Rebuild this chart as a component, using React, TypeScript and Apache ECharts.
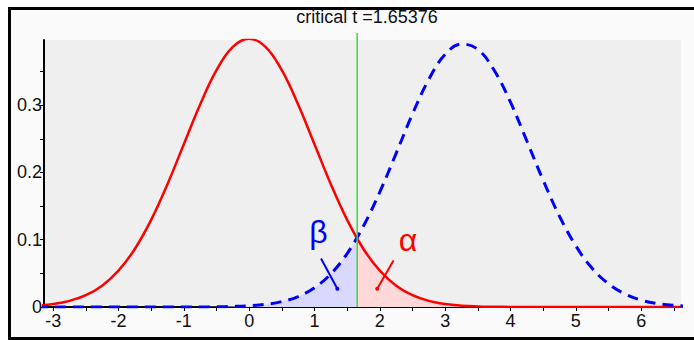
import React, { useEffect, useRef } from "react";
import * as echarts from "echarts";

const TITLE = "critical t =1.65376";
const CRITICAL_T = 1.65376;
const X_MIN = -3.14;
const X_MAX = 6.61;
const Y_MAX = 0.397;
const CRIT_LINE_TOP = 0.4074;

const X_VALUES = [
  -3.25, -3.0, -2.75, -2.5, -2.25, -2.0, -1.75, -1.5, -1.25, -1.0, -0.75, -0.5, -0.25,
  0.0, 0.25, 0.5, 0.75, 1.0, 1.25, 1.5, 1.75, 2.0, 2.25, 2.5, 2.75, 3.0, 3.25, 3.5,
  3.75, 4.0, 4.25, 4.5, 4.75, 5.0, 5.25, 5.5, 5.75, 6.0, 6.25, 6.5, 6.75,
];

// null-hypothesis density (red, solid)
const NULL_PDF = [
  0.002, 0.0044, 0.0091, 0.0175, 0.0317, 0.054, 0.0863, 0.1295, 0.1826, 0.242, 0.3011,
  0.3521, 0.3867, 0.3989, 0.3867, 0.3521, 0.3011, 0.242, 0.1826, 0.1295, 0.0863, 0.054,
  0.0317, 0.0175, 0.0091, 0.0044, 0.002, 0.0009, 0.0004, 0.0001, 0, 0, 0, 0, 0, 0, 0, 0,
  0, 0, 0,
];

// alternative density (blue, dashed)
const ALT_PDF = [
  0, 0, 0, 0, 0, 0, 0, 0, 0, 0, 0.0001, 0.0003, 0.0008, 0.0018, 0.0039, 0.0081, 0.0156,
  0.0286, 0.0492, 0.0795, 0.1205, 0.171, 0.2285, 0.287, 0.3385, 0.3755, 0.391, 0.383,
  0.352, 0.3045, 0.247, 0.1885, 0.135, 0.091, 0.0575, 0.0345, 0.0195, 0.0102, 0.0052,
  0.0025, 0.0012,
];

const NULL_AT_CRIT = 0.1013;
const ALT_AT_CRIT = 0.1025;

// annotation anchor points (data coords)
const BETA_LABEL = [1.06, 0.112];
const BETA_POINTER = [[1.1, 0.072], [1.35, 0.027]];
const ALPHA_LABEL = [2.43, 0.1];
const ALPHA_POINTER = [[2.21, 0.069], [1.96, 0.027]];

const FONT = "Liberation Sans";

export default function App() {
  const ref = useRef<HTMLDivElement>(null);

  useEffect(() => {
    if (!ref.current) return;
    const chart = echarts.init(ref.current, null, { renderer: "svg" });

    const nullData = X_VALUES.map((x, i) => [x, NULL_PDF[i]]);
    const altData = X_VALUES.map((x, i) => [x, ALT_PDF[i]]);
    const betaData = X_VALUES.map((x, i) => [x, ALT_PDF[i]])
      .filter((p) => p[0] < CRITICAL_T)
      .concat([[CRITICAL_T, ALT_AT_CRIT]]);
    const alphaData = [[CRITICAL_T, NULL_AT_CRIT]].concat(
      X_VALUES.map((x, i) => [x, NULL_PDF[i]]).filter((p) => p[0] > CRITICAL_T)
    );

    const isMultiple = (v: number, step: number) =>
      Math.abs(v / step - Math.round(v / step)) < 1e-6;

    chart.setOption({
      animation: false,
      backgroundColor: "transparent",
      graphic: [
        {
          id: "title",
          type: "text",
          x: 367,
          y: 17,
          style: {
            text: TITLE,
            font: `18px "${FONT}"`,
            fill: "#111",
            textAlign: "center",
            textVerticalAlign: "middle",
          },
        },
      ],
      grid: {
        left: 44,
        right: 13,
        top: 40,
        bottom: 33,
        show: true,
        backgroundColor: "#efefef",
        borderWidth: 0,
      },
      xAxis: {
        type: "value",
        min: X_MIN,
        max: X_MAX,
        splitNumber: 20,
        splitLine: { show: false },
        axisLine: { show: true, onZero: false, lineStyle: { color: "#000", width: 2 } },
        axisTick: { show: true, length: 4, lineStyle: { color: "#000", width: 1 } },
        axisLabel: {
          showMinLabel: false,
          showMaxLabel: false,
          margin: 5,
          fontFamily: FONT,
          fontSize: 18,
          color: "#111",
          formatter: (v: number) => (isMultiple(v, 1) ? String(Math.round(v)) : ""),
        },
      },
      yAxis: {
        type: "value",
        min: 0,
        max: Y_MAX,
        interval: 0.05,
        splitLine: { show: false },
        axisLine: { show: true, onZero: false, lineStyle: { color: "#000", width: 2 } },
        axisTick: { show: true, length: 4, lineStyle: { color: "#000", width: 1 } },
        axisLabel: {
          showMaxLabel: false,
          margin: 2,
          fontFamily: FONT,
          fontSize: 18,
          color: "#111",
          formatter: (v: number) =>
            isMultiple(v, 0.1) ? (v === 0 ? "0" : v.toFixed(1)) : "",
        },
      },
      series: [
        {
          name: "beta",
          type: "line",
          data: betaData,
          smooth: 0.4,
          showSymbol: false,
          lineStyle: { width: 0 },
          areaStyle: { color: "#d9d9ff", opacity: 1 },
          z: 1,
          silent: true,
        },
        {
          name: "alpha",
          type: "line",
          data: alphaData,
          smooth: 0.4,
          showSymbol: false,
          lineStyle: { width: 0 },
          areaStyle: { color: "#ffd9d9", opacity: 1 },
          z: 1,
          silent: true,
        },
        {
          name: "null",
          type: "line",
          data: nullData,
          smooth: 0.4,
          showSymbol: false,
          lineStyle: { color: "#ff0000", width: 2.5 },
          z: 3,
        },
        {
          name: "alt",
          type: "line",
          data: altData,
          smooth: 0.4,
          showSymbol: false,
          lineStyle: { color: "#0000ff", width: 3, type: [11, 7] },
          z: 4,
        },
        {
          name: "annotations",
          type: "scatter",
          data: [],
          z: 5,
          markPoint: {
            silent: true,
            symbol: "circle",
            symbolSize: 0,
            data: [
              {
                coord: BETA_LABEL,
                label: {
                  show: true,
                  formatter: "β",
                  color: "#0000ff",
                  fontSize: 32,
                  fontFamily: FONT,
                  position: "inside",
                },
              },
              {
                coord: ALPHA_LABEL,
                label: {
                  show: true,
                  formatter: "α",
                  color: "#ff0000",
                  fontSize: 32,
                  fontFamily: FONT,
                  position: "inside",
                },
              },
            ],
          },
          markLine: {
            silent: true,
            symbol: ["none", "circle"],
            symbolSize: 4,
            label: { show: false },
            data: [
              [
                { coord: BETA_POINTER[0], lineStyle: { color: "#0000ff", width: 2, type: "solid" }, itemStyle: { color: "#0000ff" } },
                { coord: BETA_POINTER[1] },
              ],
              [
                { coord: ALPHA_POINTER[0], lineStyle: { color: "#ff0000", width: 2, type: "solid" }, itemStyle: { color: "#ff0000" } },
                { coord: ALPHA_POINTER[1] },
              ],
            ],
          },
        },
      ],
    });

    // critical-value line, placed through the chart's own scales (extends slightly above the plot)
    const bottom = chart.convertToPixel({ xAxisIndex: 0, yAxisIndex: 0 }, [CRITICAL_T, 0]) as number[];
    const top = chart.convertToPixel({ xAxisIndex: 0, yAxisIndex: 0 }, [CRITICAL_T, CRIT_LINE_TOP]) as number[];
    chart.setOption({
      graphic: [
        {
          id: "critLine",
          type: "line",
          z: 10,
          shape: { x1: bottom[0], y1: bottom[1], x2: top[0], y2: top[1] },
          style: { stroke: "#33dd33", lineWidth: 1.5 },
          silent: true,
        },
      ],
    });

    return () => chart.dispose();
  }, []);

  return (
    <div
      style={{
        position: "fixed",
        left: 0,
        top: 0,
        width: 694,
        height: 340,
        background: "#ffffff",
        overflow: "hidden",
      }}
    >
      <div
        style={{
          position: "absolute",
          left: 8,
          top: 7,
          width: 700,
          height: 327,
          border: "3px solid #000",
          background: "#fafafa",
        }}
      />
      <div
        ref={ref}
        style={{ position: "absolute", left: 0, top: 0, width: 694, height: 340 }}
      />
    </div>
  );
}
